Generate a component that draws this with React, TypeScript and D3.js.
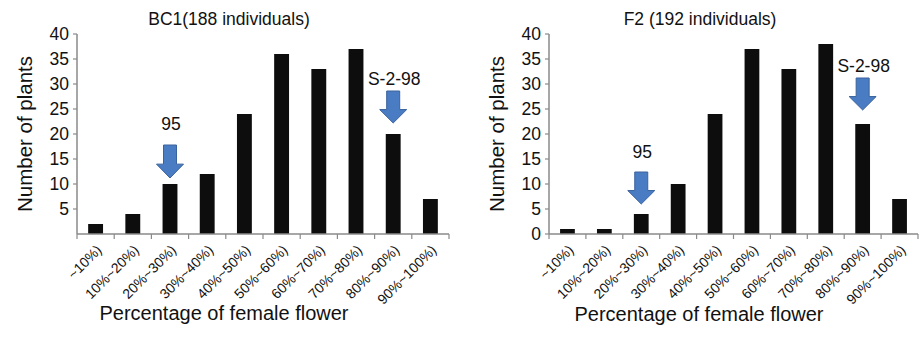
import React from "react";
import * as d3 from "d3";

const categories = ["~10%)", "10%~20%)", "20%~30%)", "30%~40%)", "40%~50%)", "50%~60%)", "60%~70%)", "70%~80%)", "80%~90%)", "90%~100%)"];
const bc1Values = [2, 4, 10, 12, 24, 36, 33, 37, 20, 7];
const f2Values = [1, 1, 4, 10, 24, 37, 33, 38, 22, 7];
const bc1Ticks = [5, 10, 15, 20, 25, 30, 35, 40];
const f2Ticks = [0, 5, 10, 15, 20, 25, 30, 35, 40];
const bc1Arrows = [{ cat: "20%~30%)", label: "95", top: 145, tip: 178, labelY: 130 }, { cat: "80%~90%)", label: "S-2-98", top: 91, tip: 123, labelY: 85 }];
const f2Arrows = [{ cat: "20%~30%)", label: "95", top: 172, tip: 204, labelY: 158 }, { cat: "80%~90%)", label: "S-2-98", top: 78, tip: 110, labelY: 72 }];

const FONT = "'Liberation Sans', Arial, sans-serif";

type Arrow = { cat: string; label: string; top: number; tip: number; labelY: number };

function Panel(props: { x0: number; x1: number; title: string; titleX: number; values: number[]; ticks: number[]; arrows: Arrow[]; yLabelX: number; xLabelX: number; xLabelY: number }) {
  const { x0, x1, title, titleX, values, ticks, arrows, yLabelX, xLabelX, xLabelY } = props;
  const y0 = 234, yTop = 34;
  const x = d3.scaleBand<string>().domain(categories).range([x0, x1]).paddingInner(0.6).paddingOuter(0.3);
  const xb = d3.scaleBand<string>().domain(categories).range([x0, x1]);
  const y = d3.scaleLinear().domain([0, 40]).range([y0, yTop]);
  const axisColor = "#8a8a8a";
  return (
    <g>
      <text x={titleX} y={25} textAnchor="middle" fontSize={17.5} fontFamily={FONT} fill="#111">{title}</text>
      {values.map((v, i) => (
        <rect key={i} x={x(categories[i])} y={y(v)} width={x.bandwidth()} height={y0 - y(v)} fill="#0d0d0d" />
      ))}
      <line x1={x0} x2={x0} y1={yTop} y2={y0} stroke={axisColor} strokeWidth={1.5} />
      <line x1={x0} x2={x1} y1={y0} y2={y0} stroke={axisColor} strokeWidth={1.5} />
      {ticks.map(t => (
        <g key={t}>
          <line x1={x0 - 4} x2={x0} y1={y(t)} y2={y(t)} stroke={axisColor} strokeWidth={1.2} />
          <text x={x0 - 8} y={y(t) + 6} textAnchor="end" fontSize={17.5} fontFamily={FONT} fill="#111">{t}</text>
        </g>
      ))}
      {categories.concat(["__end"]).map((c, i) => {
        const tx = i < categories.length ? (xb(c) as number) : x1;
        return <line key={c} x1={tx} x2={tx} y1={y0} y2={y0 + 5} stroke={axisColor} strokeWidth={1.2} />;
      })}
      {categories.map(c => {
        const cx = (xb(c) as number) + xb.bandwidth() / 2 + 7;
        const cy = y0 + 17;
        return (
          <text key={c} transform={`translate(${cx},${cy}) rotate(-45)`} textAnchor="end" fontSize={14} fontFamily={FONT} fill="#111">{c}</text>
        );
      })}
      <text transform={`translate(${yLabelX},134) rotate(-90)`} textAnchor="middle" fontSize={20.5} fontFamily={FONT} fill="#111">Number of plants</text>
      <text x={xLabelX} y={xLabelY} textAnchor="middle" fontSize={20} fontFamily={FONT} fill="#111">Percentage of female flower</text>
      {arrows.map(a => {
        const cx = (x(a.cat) as number) + x.bandwidth() / 2;
        const hs = a.top + (a.tip - a.top) * 0.58;
        const sw = 6.5, hw = 13.5;
        const d = `M${cx - sw},${a.top} L${cx + sw},${a.top} L${cx + sw},${hs} L${cx + hw},${hs} L${cx},${a.tip} L${cx - hw},${hs} L${cx - sw},${hs} Z`;
        return (
          <g key={a.label}>
            <path d={d} fill="#4a7cc3" stroke="#3a629c" strokeWidth={1} />
            <text x={cx + 1} y={a.labelY} textAnchor="middle" fontSize={17.5} fontFamily={FONT} fill="#111">{a.label}</text>
          </g>
        );
      })}
    </g>
  );
}

export default function App() {
  return (
    <svg width={924} height={344} style={{ position: "absolute", left: 0, top: 0, background: "#fff" }}>
      <rect width={924} height={344} fill="#fff" />
      <Panel x0={77} x1={449} title="BC1(188 individuals)" titleX={229} values={bc1Values} ticks={bc1Ticks} arrows={bc1Arrows} yLabelX={32} xLabelX={224} xLabelY={320} />
      <Panel x0={549} x1={918} title="F2 (192 individuals)" titleX={700} values={f2Values} ticks={f2Ticks} arrows={f2Arrows} yLabelX={504} xLabelX={699} xLabelY={321} />
    </svg>
  );
}
